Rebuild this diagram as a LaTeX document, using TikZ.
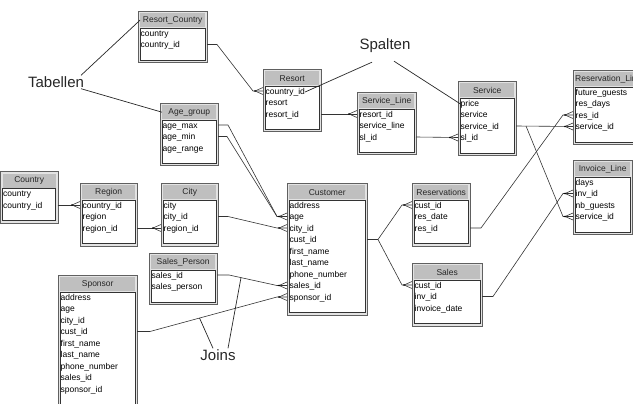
\documentclass[tikz,border=0pt]{standalone}
\usepackage{fontspec}
\setmainfont{Liberation Sans}
\usepackage{tikz}
\usetikzlibrary{decorations.markings}

\tikzset{
  tabframe/.style={draw=gray!75!black, fill=gray!22, line width=.6pt, inner sep=0pt},
  tabhead/.style={fill=gray!50, inner sep=0pt, font=\fontsize{8.5}{10}\selectfont, text=black!85},
  field/.style={inner sep=0pt, font=\fontsize{8.5}{10}\selectfont},
  rel/.style={draw=black!80, line width=.6pt},
  crow/.style={rel, postaction={decorate, decoration={markings, mark=at position 1 with {\draw[rel] (-8pt,0) -- (0,3.5pt) (-8pt,0) -- (0,-3.5pt); \fill[black] (-8pt,0) circle (.9pt);}}}},
  lbl/.style={inner sep=1pt, font=\fontsize{15}{18}\selectfont, text=black!85},
  pointer/.style={draw=black!85, line width=.7pt}
}

% #1 name, #2 x, #3 y, #4 width, #5 height, #6 title, #7 fields
\newcommand{\dbtable}[7]{%
  \node[tabframe, anchor=north west, minimum width=#4, minimum height=#5] (#1) at (#2,#3) {};
  \node[tabhead, anchor=north west, minimum width=#4-4, minimum height=14] (#1-h) at (#2+2,#3+2) {#6};
  \filldraw[fill=white, draw=black!80, line width=.6pt] (#2+2,#3+17) rectangle (#2+#4-2,#3+#5-2);
  \foreach \fld [count=\i] in {#7} {
    \coordinate (#1-\i-w) at (#2,#3+10.5+11.5*\i);
    \coordinate (#1-\i-e) at (#2+#4,#3+10.5+11.5*\i);
    \node[field, anchor=base west] (#1-\i) at (#2+2.5,#3+13.7+11.5*\i) {\fld};
  }
}

\begin{document}
\begin{tikzpicture}[x=1pt, y=-1pt]
  \useasboundingbox (0,0) rectangle (633,404);
  \clip (0,0) rectangle (633,404);

  % tables
  \dbtable{rc}{138}{11}{69}{51}{Resort\_Country}{country, country\_id}
  \dbtable{res}{263}{69}{58}{62.5}{Resort}{country\_id, resort, resort\_id}
  \dbtable{sl}{357}{92}{59}{62.5}{Service\_Line}{resort\_id, service\_line, sl\_id}
  \dbtable{srv}{458}{81}{58}{74}{Service}{price, service, service\_id, sl\_id}
  \dbtable{rl}{573}{70}{70}{74}{Reservation\_Line}{future\_guests, res\_days, res\_id, service\_id}
  \dbtable{il}{573}{160}{59}{74}{Invoice\_Line}{days, inv\_id, nb\_guests, service\_id}
  \dbtable{ag}{160}{103}{58}{62.5}{Age\_group}{age\_max, age\_min, age\_range}
  \dbtable{cty}{0.5}{171.5}{57}{51}{Country}{country, country\_id}
  \dbtable{reg}{80}{183}{57}{62.5}{Region}{country\_id, region, region\_id}
  \dbtable{city}{161}{183}{57}{62.5}{City}{city, city\_id, region\_id}
  \dbtable{cus}{287}{183}{80}{131.5}{Customer}{address, age, city\_id, cust\_id, first\_name, last\_name, phone\_number, sales\_id, sponsor\_id}
  \dbtable{rsv}{412}{183}{58}{62.5}{Reservations}{cust\_id, res\_date, res\_id}
  \dbtable{sal}{412}{263}{70}{62.5}{Sales}{cust\_id, inv\_id, invoice\_date}
  \dbtable{sp}{149}{253}{68}{51}{Sales\_Person}{sales\_id, sales\_person}
  \dbtable{spo}{58}{275}{79}{131.5}{Sponsor}{address, age, city\_id, cust\_id, first\_name, last\_name, phone\_number, sales\_id, sponsor\_id}

  % joins
  \draw[crow] (rc-2-e) -- +(10,0) -- ([xshift=-10pt]res-1-w) -- (res-1-w);
  \draw[crow] (res-3-e) -- (sl-1-w);
  \draw[crow] (sl-3-e) -- (srv-4-w);
  \draw[crow] (srv-3-e) -- (rl-4-w);
  \draw[crow] ([xshift=10pt]srv-3-e) -- ([xshift=-10pt]il-4-w) -- (il-4-w);
  \draw[crow] (rsv-3-e) -- +(11,0) -- ([xshift=-10pt]rl-3-w) -- (rl-3-w);
  \draw[crow] (sal-2-e) -- +(11,0) -- ([xshift=-10pt]il-2-w) -- (il-2-w);
  \draw[crow] (cus-4-e) -- +(11,0) -- ([xshift=-10pt]rsv-1-w) -- (rsv-1-w);
  \draw[crow] ([xshift=11pt]cus-4-e) -- ([xshift=-10pt]sal-1-w) -- (sal-1-w);
  \draw[crow] (cty-2-e) -- (reg-1-w);
  \draw[crow] (reg-3-e) -- (city-3-w);
  \draw[crow] (city-2-e) -- +(10,0) -- ([xshift=-10pt]cus-3-w) -- (cus-3-w);
  \draw[crow] (ag-1-e) -- +(10,0) -- ([xshift=-10pt]cus-2-w) -- (cus-2-w);
  \draw[rel] (ag-2-e) -- +(9,0) -- ([xshift=-10pt]cus-2-w);
  \draw[crow] (sp-1-e) -- +(12,0) -- coordinate[pos=.25] (jn2) ([xshift=-10pt]cus-8-w) -- (cus-8-w);
  \draw[crow] (spo-4-e) -- +(13,0) -- coordinate[pos=.39] (jn1) ([xshift=-10pt]cus-9-w) -- (cus-9-w);

  % labels
  \node[lbl] (tab) at (56,82) {Tabellen};
  \node[lbl] (spa) at (385,46) {Spalten};
  \node[lbl] (joi) at (218,355) {Joins};
  \draw[pointer] (tab.15) -- (rc-h.west);
  \draw[pointer] (tab.-15) -- (ag-h.west);
  \draw[pointer] ([xshift=-13pt,yshift=-8pt]spa.south) -- (res-1.east);
  \draw[pointer] ([xshift=9pt,yshift=-7pt]spa.south) -- (srv-1.west);
  \draw[pointer] ([xshift=-5pt]joi.north) -- (jn1);
  \draw[pointer] ([xshift=10pt]joi.north) -- (jn2);
\end{tikzpicture}
\end{document}
